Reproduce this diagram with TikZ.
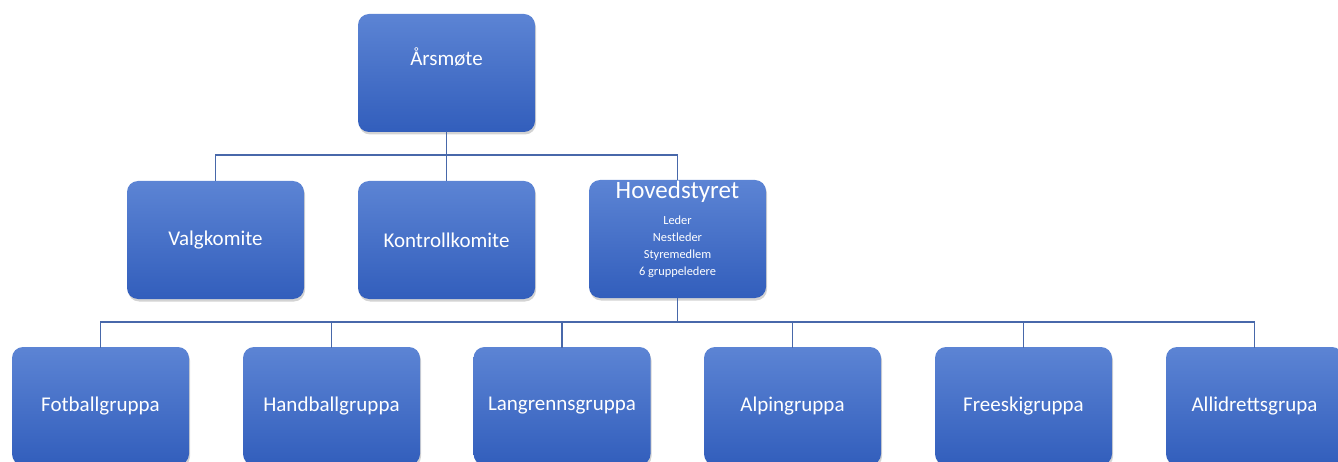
\documentclass[tikz,border=0pt]{standalone}
\usepackage{fontspec}
\setmainfont{Carlito}
\usetikzlibrary{shadows}
\definecolor{boxtop}{RGB}{92,132,212}
\definecolor{boxbot}{RGB}{50,94,188}
\definecolor{linec}{RGB}{72,104,170}
\tikzset{
  orgbox/.style={rectangle, rounded corners=11pt, minimum width=177pt, minimum height=118pt,
    top color=boxtop, bottom color=boxbot, draw=none, inner sep=0pt,
    drop shadow={opacity=0.35, shadow xshift=1pt, shadow yshift=-2.5pt},
    text=white, font=\fontsize{21}{25}\selectfont},
  conn/.style={draw=linec, line width=1.4pt, line cap=rect},
  wtext/.style={text=white, inner sep=0pt, align=center}
}
\begin{document}
\begin{tikzpicture}[x=1pt,y=-1pt]
\useasboundingbox (0,0) rectangle (1338,462);
\clip (0,0) rectangle (1338,462);
\coordinate (j1) at (446.5,155);
\coordinate (j2) at (677.5,322);
\node[orgbox] (ars) at (446.5,73) {};
\node[orgbox] (valg) at (215.5,240) {Valgkomite};
\node[orgbox] (kontroll) at (446.5,240) {Kontrollkomite};
\node[orgbox] (hov) at (677.5,239) {};
\node[orgbox] (fot) at (100.5,406) {Fotballgruppa};
\node[orgbox] (hand) at (331.5,406) {Handballgruppa};
\node[orgbox] (lang) at (562,406) {Langrennsgruppa};
\node[orgbox] (alp) at (792.5,406) {Alpingruppa};
\node[orgbox] (free) at (1023.5,406) {Freeskigruppa};
\node[orgbox] (alli) at (1254.5,406) {Allidrettsgrupa};
\node[wtext, font=\fontsize{21}{25}\selectfont] (arstext) at (446.5,57) {Årsmøte};
\node[wtext, font=\fontsize{25}{30}\selectfont] (hovtitle) at (677.5,192) {Hovedstyret};
\node[wtext, font=\fontsize{12.4}{17}\selectfont] (hovlist) at (677.5,247) {Leder\\Nestleder\\Styremedlem\\6 gruppeledere};
\draw[conn] (ars.south) -- (j1);
\draw[conn] (j1) -| (valg.north);
\draw[conn] (j1) -- (kontroll.north);
\draw[conn] (j1) -| (hov.north);
\draw[conn] (hov.south) -- (j2);
\draw[conn] (j2) -| (fot.north);
\draw[conn] (j2) -| (hand.north);
\draw[conn] (j2) -| (lang.north);
\draw[conn] (j2) -| (alp.north);
\draw[conn] (j2) -| (free.north);
\draw[conn] (j2) -| (alli.north);
\end{tikzpicture}
\end{document}
